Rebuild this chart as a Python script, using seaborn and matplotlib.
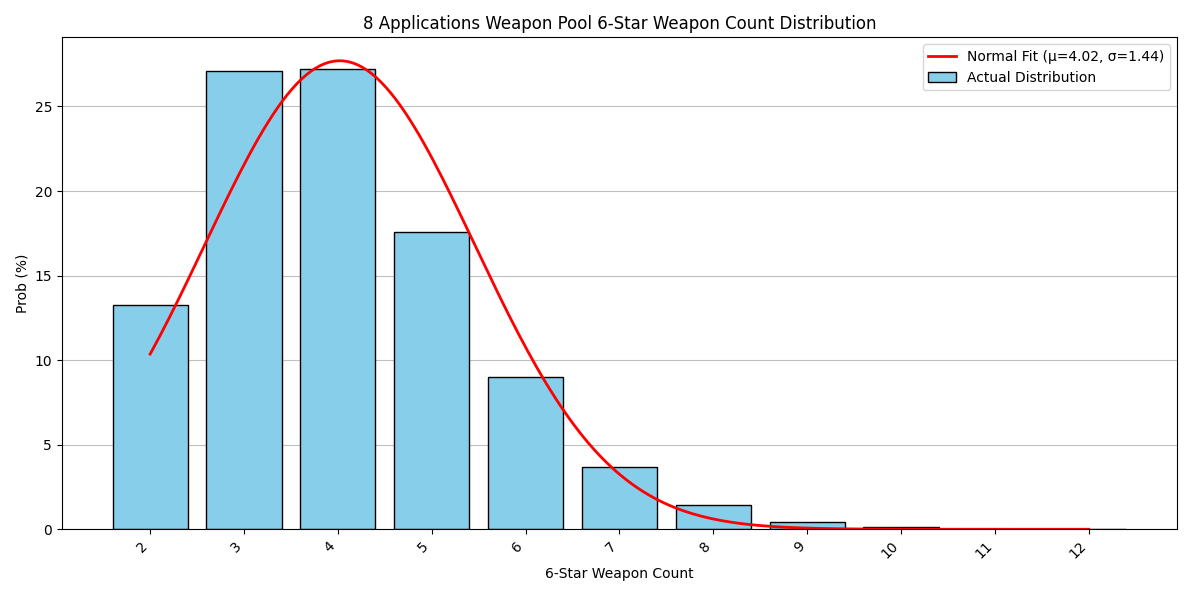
import numpy as np
import pandas as pd
import matplotlib
matplotlib.use("Agg")
import matplotlib.pyplot as plt
import seaborn as sns

# Distribution
counts = [2, 3, 4, 5, 6, 7, 8, 9, 10, 11, 12]
probs = [13.27, 27.08, 27.19, 17.58, 9.03, 3.71, 1.42, 0.44, 0.12, 0.02, 0.004]

# Paramètres de l'ajustement normal (légende)
mu = 4.02
sigma = 1.44

df = pd.DataFrame({"count": counts, "prob": probs})

fit_x = np.linspace(min(counts), max(counts), 200)
fit_y = 100 * np.exp(-0.5 * ((fit_x - mu) / sigma) ** 2) / (sigma * np.sqrt(2 * np.pi))
fit_df = pd.DataFrame({"x": fit_x, "y": fit_y})

fig, ax = plt.subplots(figsize=(11.92, 5.96), dpi=100)

sns.barplot(data=df, x="count", y="prob", native_scale=True, width=0.8,
            color="skyblue", edgecolor="black", saturation=1,
            label="Actual Distribution", ax=ax)
sns.lineplot(data=fit_df, x="x", y="y", color="red", linewidth=2,
             label=f"Normal Fit (μ={mu:.2f}, σ={sigma:.2f})", ax=ax)

ax.set_title("8 Applications Weapon Pool 6-Star Weapon Count Distribution")
ax.set_xlabel("6-Star Weapon Count")
ax.set_ylabel("Prob (%)")
ax.set_xticks(counts)
ax.set_xticklabels([str(c) for c in counts], rotation=45, ha="right")
ax.grid(axis="y", alpha=0.8)
ax.set_axisbelow(True)
ax.legend(loc="upper right")

plt.tight_layout()
plt.savefig("out.png")
